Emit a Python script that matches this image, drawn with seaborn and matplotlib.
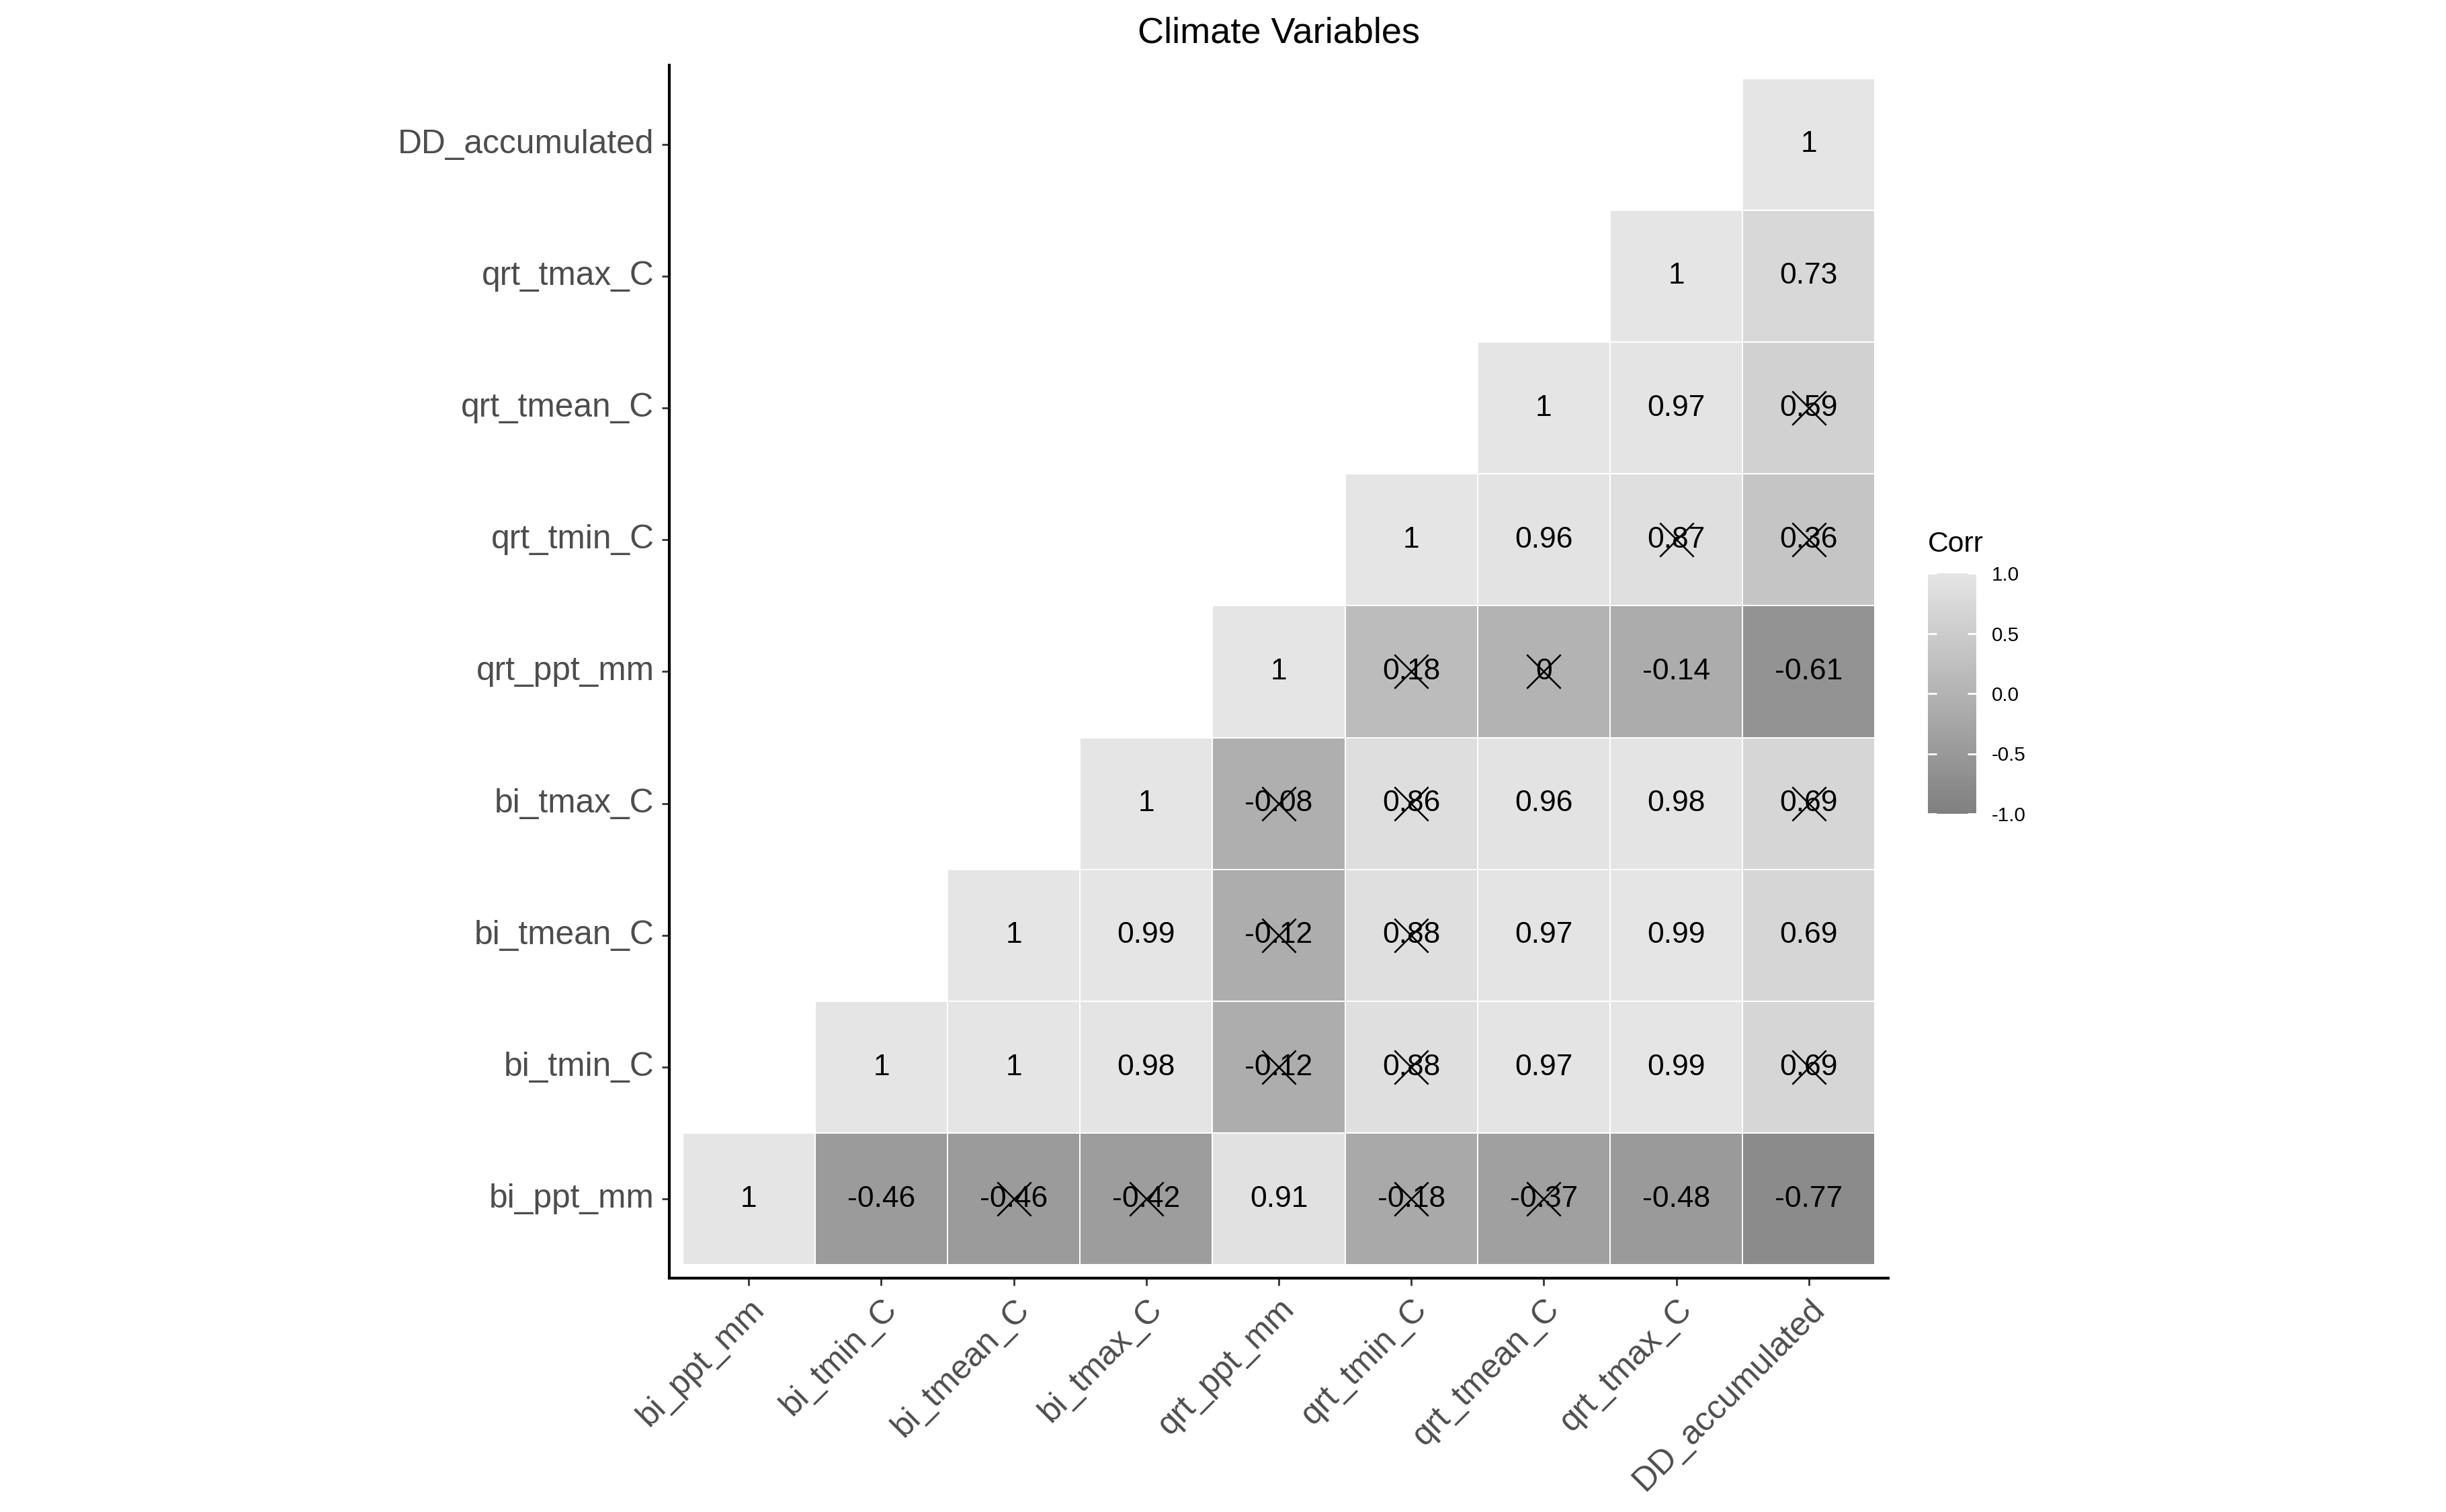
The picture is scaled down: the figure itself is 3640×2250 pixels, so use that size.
import numpy as np
import pandas as pd
import matplotlib
matplotlib.use("Agg")
import matplotlib.pyplot as plt
from matplotlib.colors import LinearSegmentedColormap
import seaborn as sns

plt.rcParams['font.family'] = ['Liberation Sans', 'DejaVu Sans']

# ---------------- data ----------------
variables = ["bi_ppt_mm", "bi_tmin_C", "bi_tmean_C", "bi_tmax_C", "qrt_ppt_mm",
             "qrt_tmin_C", "qrt_tmean_C", "qrt_tmax_C", "DD_accumulated"]

# upper-triangle correlations: row i holds values for columns i..8
corr_bi_ppt_mm = [1, -0.46, -0.46, -0.42, 0.91, -0.18, -0.37, -0.48, -0.77]
corr_bi_tmin_C = [1, 1, 0.98, -0.12, 0.88, 0.97, 0.99, 0.69]
corr_bi_tmean_C = [1, 0.99, -0.12, 0.88, 0.97, 0.99, 0.69]
corr_bi_tmax_C = [1, -0.08, 0.86, 0.96, 0.98, 0.69]
corr_qrt_ppt_mm = [1, 0.18, 0, -0.14, -0.61]
corr_qrt_tmin_C = [1, 0.96, 0.87, 0.36]
corr_qrt_tmean_C = [1, 0.97, 0.59]
corr_qrt_tmax_C = [1, 0.73]
corr_DD_accumulated = [1]

# non-significant flags (crossed cells), same layout
insig_bi_ppt_mm = [0, 0, 1, 1, 0, 1, 1, 0, 0]
insig_bi_tmin_C = [0, 0, 0, 1, 1, 0, 0, 1]
insig_bi_tmean_C = [0, 0, 1, 1, 0, 0, 0]
insig_bi_tmax_C = [0, 1, 1, 0, 0, 1]
insig_qrt_ppt_mm = [0, 1, 1, 0, 0]
insig_qrt_tmin_C = [0, 0, 1, 1]
insig_qrt_tmean_C = [0, 0, 1]
insig_qrt_tmax_C = [0, 0]
insig_DD_accumulated = [0]

corr_rows = [corr_bi_ppt_mm, corr_bi_tmin_C, corr_bi_tmean_C, corr_bi_tmax_C,
             corr_qrt_ppt_mm, corr_qrt_tmin_C, corr_qrt_tmean_C, corr_qrt_tmax_C,
             corr_DD_accumulated]
insig_rows = [insig_bi_ppt_mm, insig_bi_tmin_C, insig_bi_tmean_C, insig_bi_tmax_C,
              insig_qrt_ppt_mm, insig_qrt_tmin_C, insig_qrt_tmean_C, insig_qrt_tmax_C,
              insig_DD_accumulated]

n = len(variables)
M = np.full((n, n), np.nan)
INS = np.zeros((n, n), dtype=bool)
for i in range(n):
    for k, v in enumerate(corr_rows[i]):
        j = i + k
        M[i, j] = v
        M[j, i] = v
        INS[i, j] = bool(insig_rows[i][k])

# heatmap rows top->bottom: reversed variable order
order = variables[::-1]
df = pd.DataFrame(M[::-1, :], index=order, columns=variables)
shown = np.zeros((n, n), dtype=bool)
for r in range(n):
    i = n - 1 - r
    for j in range(n):
        shown[r, j] = j >= i
mask = ~shown
labels = np.array([[f"{v:g}" if not np.isnan(v) else "" for v in row] for row in df.values], dtype=object)

# ---------------- plot ----------------
W, H = 3640, 2250
fig = plt.figure(figsize=(W / 250, H / 250), dpi=250)
ax = fig.add_axes([996 / W, 348 / H, 1814 / W, 1805 / H])
cax = fig.add_axes([2869 / W, 1039 / H, 72 / W, 358 / H])

cmap = LinearSegmentedColormap.from_list("greys3", ["#7f7f7f", "#b3b3b3", "#e5e5e5"])

sns.heatmap(df, mask=mask, cmap=cmap, vmin=-1, vmax=1, annot=labels, fmt="",
            annot_kws=dict(color="black", fontsize=12.8),
            linewidths=0.5, linecolor="white", ax=ax, cbar_ax=cax,
            cbar_kws={"ticks": [-1, -0.5, 0, 0.5, 1]},
            xticklabels=True, yticklabels=True)

# crosses for non-significant correlations
xs, ys = [], []
for r in range(n):
    i = n - 1 - r
    for j in range(n):
        if shown[r, j] and INS[i, j]:
            xs.append(j + 0.5)
            ys.append(r + 0.5)
ax.scatter(xs, ys, marker="x", s=210, c="black", linewidths=0.75, zorder=3)

ax.set_xlim(-0.1, n + 0.1)
ax.set_ylim(n + 0.1, -0.1)
ax.set_xlabel("")
ax.set_ylabel("")
for side in ["left", "bottom"]:
    ax.spines[side].set_visible(True)
    ax.spines[side].set_color("black")
    ax.spines[side].set_linewidth(1.2)
for side in ["top", "right"]:
    ax.spines[side].set_visible(False)

ax.tick_params(axis="both", length=3.2, width=0.8, color="#333333",
               labelcolor="#4d4d4d", labelsize=14.3, pad=3.3)
plt.setp(ax.get_yticklabels(), rotation=0)
plt.setp(ax.get_xticklabels(), rotation=45, ha="right", va="top",
         rotation_mode="anchor")

# colorbar styling
cbar = ax.collections[0].colorbar
cbar.outline.set_visible(False)
cbar.set_ticklabels(["-1.0", "-0.5", "0.0", "0.5", "1.0"])
cax.tick_params(axis="y", which="both", direction="in", length=3.7, width=0.8,
                color="white", left=True, right=True, labelleft=False,
                labelright=True, labelsize=8.5, pad=6.5, labelcolor="black")
fig.text(2869 / W, 1 - 810 / H, "Corr", ha="left", va="center", fontsize=12.3)

fig.text((996 + 2810) / 2 / W, 1 - 63 / H, "Climate Variables", ha="center",
         va="baseline", fontsize=15.6)

fig.savefig("out.png", dpi=250, facecolor="white")
